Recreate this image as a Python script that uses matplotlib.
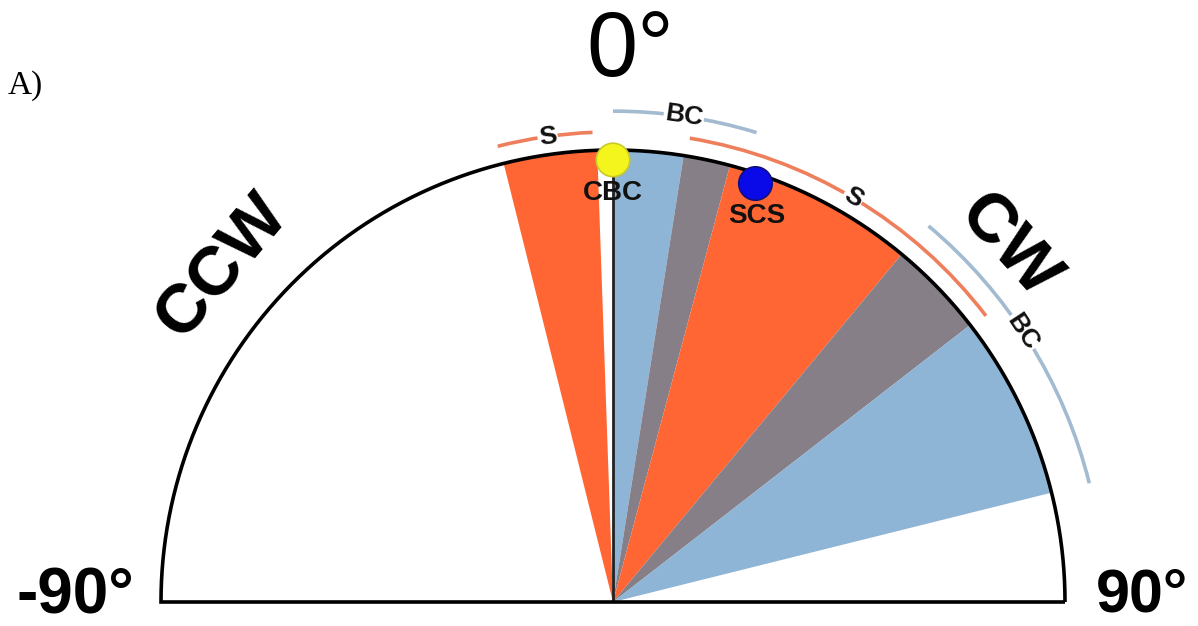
import numpy as np
import matplotlib
matplotlib.use("Agg")
import matplotlib.pyplot as plt
from matplotlib.patches import Wedge, Circle, Arc

# Angular sectors (degrees from vertical, clockwise positive)
sector_start = [-14.0, 0.0, 9.0, 15.0, 39.7, 52.2]
sector_end = [-2.0, 9.0, 15.0, 39.7, 52.2, 76.0]
sector_kind = ["S", "BC", "gap", "S", "gap", "BC"]

# Ranges marked by arcs outside the semicircle
range_label = ["S", "BC", "S", "BC"]
range_start = [-14.2, 0.0, 9.4, 40.0]
range_end = [-2.5, 17.0, 52.5, 76.0]

# Marked orientations
point_label = ["CBC", "SCS"]
point_angle = [0.0, 18.8]

fill_color = {"S": "#FF6633", "BC": "#8EB4D6", "gap": "#867F87"}
arc_color = {"S": "#EE7F5C", "BC": "#A3BBD0"}
arc_radius = {"S": 1.040, "BC": 1.086}
dot_face = {"CBC": "#F5F51E", "SCS": "#0A0AE8"}
dot_edge = {"CBC": "#C9C92A", "SCS": "#10107A"}

PX = 452.0  # pixels per unit radius
fig = plt.figure(figsize=(11.98, 6.26), dpi=100)
ax = fig.add_axes([0, 0, 1, 1])
ax.set_xlim(-613 / PX, 585 / PX)
ax.set_ylim(-24 / PX, 602 / PX)
ax.axis("off")

LS = "Liberation Sans"


def polar(a, r):
    t = np.deg2rad(a)
    return r * np.sin(t), r * np.cos(t)


# filled sectors
for a0, a1, k in zip(sector_start, sector_end, sector_kind):
    ax.add_patch(Wedge((0, 0), 1.0, 90 - a1, 90 - a0,
                       facecolor=fill_color[k], edgecolor="none", zorder=1))

# vertical reference line
ax.plot([0, 0], [0, 1.0], color="#222222", lw=2.0, zorder=2,
        solid_capstyle="butt")

# semicircle outline
th = np.linspace(0, np.pi, 400)
ox = np.concatenate([np.cos(th), [-1.0, 1.0]])
oy = np.concatenate([np.sin(th), [0.0, 0.0]])
ax.plot(ox, oy, color="black", lw=2.6, zorder=3,
        solid_joinstyle="miter", solid_capstyle="butt")

# range arcs with their labels
label_angle = [-8.0, 8.3, 30.7, 56.6]
for lab, a0, a1, la in zip(range_label, range_start, range_end, label_angle):
    r = arc_radius[lab]
    ax.add_patch(Arc((0, 0), 2 * r, 2 * r, theta1=90 - a1, theta2=90 - a0,
                     color=arc_color[lab], lw=2.6, zorder=2))
    x, y = polar(la, r)
    ax.text(x, y, lab, ha="center", va="center", rotation=-la,
            rotation_mode="anchor", fontsize=19, fontweight="bold",
            family=LS, color="#111111", zorder=4,
            bbox=dict(boxstyle="square,pad=0.05", fc="white", ec="none"))

# marked points
label_offset = [(0.0, 0.905), (20.5, 0.911)]
for lab, a, (la, lr) in zip(point_label, point_angle, label_offset):
    x, y = polar(a, 0.978)
    ax.add_patch(Circle((x, y), 0.037, facecolor=dot_face[lab],
                        edgecolor=dot_edge[lab], lw=1.2, zorder=5))
    tx, ty = polar(la, lr)
    ax.text(tx, ty, lab, ha="center", va="center", fontsize=20,
            fontweight="bold", family=LS, color="#111111", zorder=6)

# direction labels
x, y = polar(-49.4, 1.14)
ax.text(x, y, "CCW", ha="center", va="center", rotation=49.4,
        rotation_mode="anchor", fontsize=50, fontweight="bold", family=LS)
x, y = polar(48.0, 1.175)
ax.text(x, y, "CW", ha="center", va="center", rotation=-48.0,
        rotation_mode="anchor", fontsize=50, fontweight="bold", family=LS)

# angle labels
ax.text(17 / PX, 550 / PX, "0°", ha="center", va="center", fontsize=66,
        family=LS)
ax.text(-538 / PX, 6 / PX, "-90°", ha="center", va="center", fontsize=46,
        fontweight="bold", family=LS)
ax.text(483 / PX, 6 / PX, "90°", ha="left", va="center", fontsize=44,
        fontweight="bold", family=LS)

# panel tag
ax.text(-605 / PX, 508 / PX, "A)", ha="left", va="baseline", fontsize=24,
        family="Liberation Serif")

fig.savefig("out.png", dpi=100)
